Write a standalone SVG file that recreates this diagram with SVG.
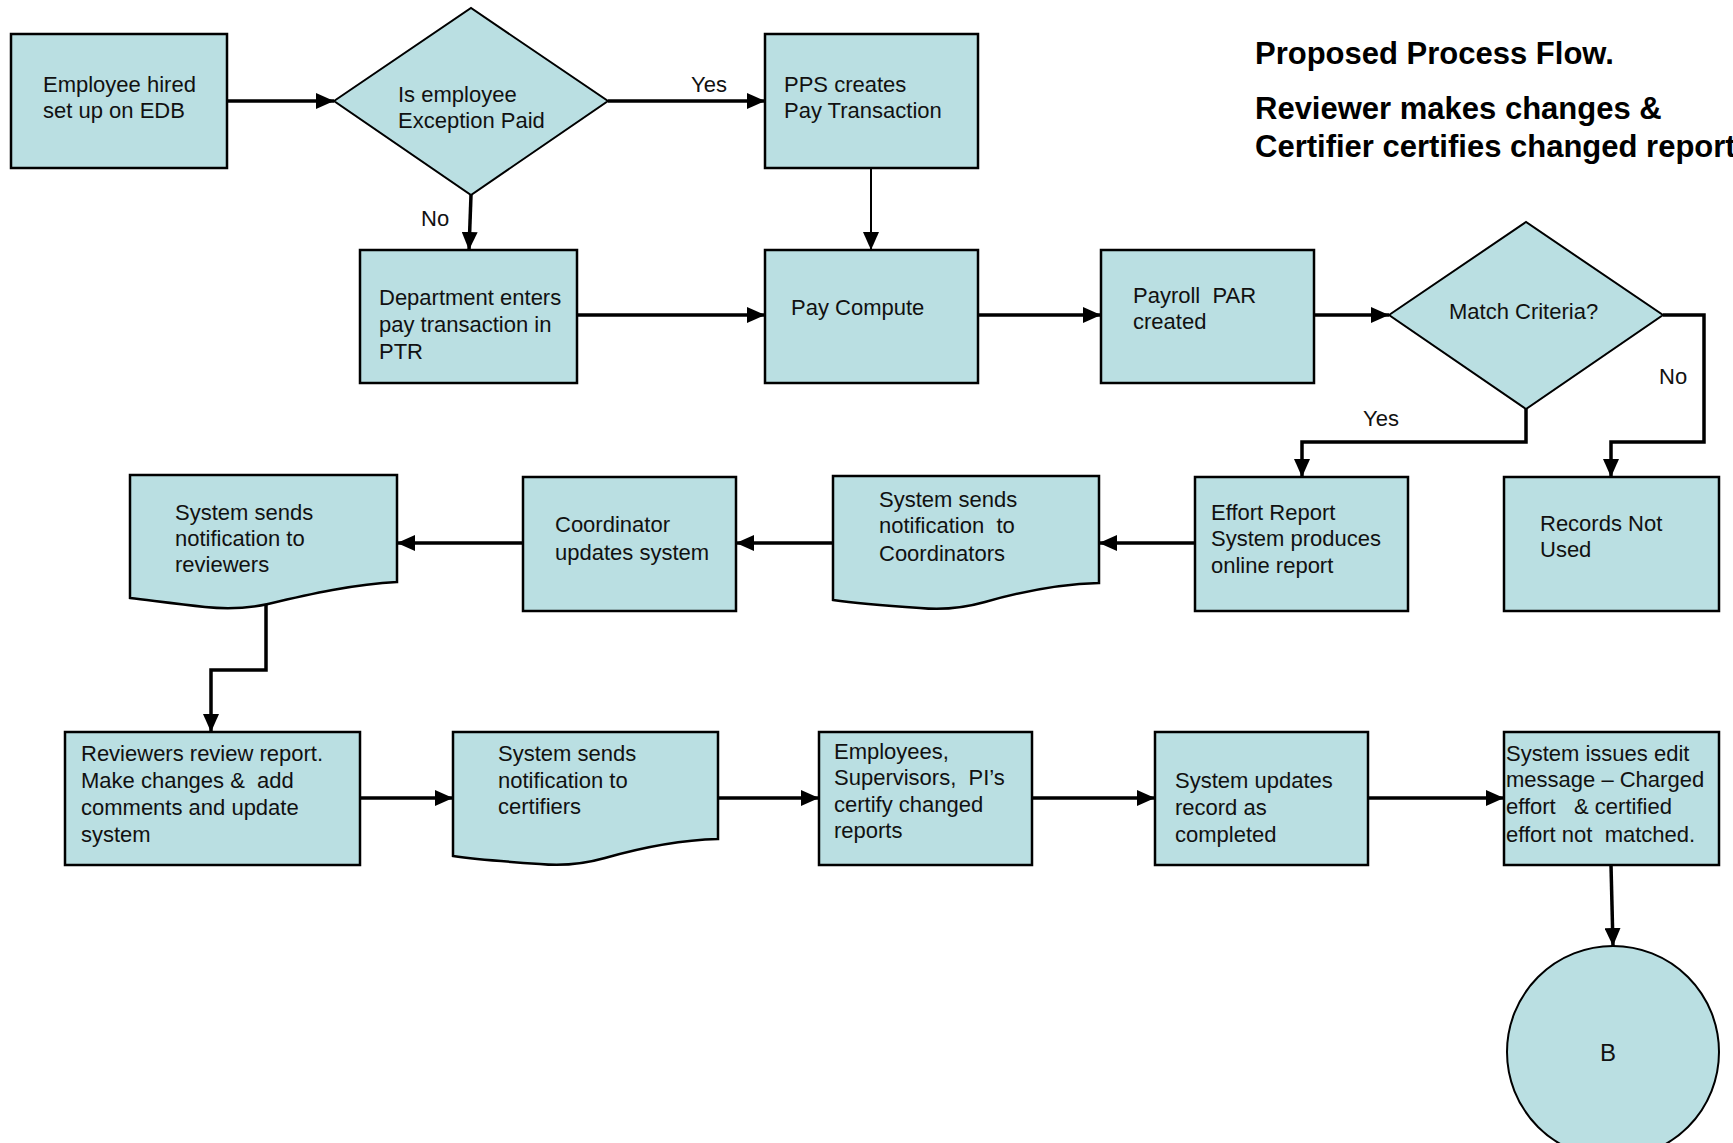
<svg xmlns="http://www.w3.org/2000/svg" width="1733" height="1143" viewBox="0 0 1733 1143">
<style>
.n{fill:#BADFE2;stroke:#000;stroke-width:2.5}
.d{fill:#BADFE2;stroke:#000;stroke-width:2}
.t{font-family:"Liberation Sans",Arial,sans-serif;font-size:22px;fill:#111;white-space:pre}
.h{font-family:"Liberation Sans",Arial,sans-serif;font-size:31px;font-weight:bold;fill:#000}
.c{fill:none;stroke:#000;stroke-width:3.5}
.c2{fill:none;stroke:#000;stroke-width:2}
</style>
<defs>
<marker id="a" viewBox="0 0 18 16" refX="18" refY="8" markerWidth="18" markerHeight="16" orient="auto" markerUnits="userSpaceOnUse"><path d="M0,0 L18,8 L0,16 z" fill="#000"/></marker>
</defs>
<rect width="1733" height="1143" fill="#fff"/>
<text class="h" x="1255" y="64">Proposed Process Flow.</text>
<text class="h" x="1255" y="119">Reviewer makes changes &amp;</text>
<text class="h" x="1255" y="157">Certifier certifies changed report</text>

<g id="connectors">
<path class="c" d="M227,101 H334" marker-end="url(#a)"/>
<path class="c" d="M608,101 H765" marker-end="url(#a)"/>
<path class="c" d="M471,195 L469,250" marker-end="url(#a)"/>
<path class="c2" d="M871,168 V250" marker-end="url(#a)"/>
<path class="c" d="M577,315 H765" marker-end="url(#a)"/>
<path class="c" d="M978,315 H1101" marker-end="url(#a)"/>
<path class="c" d="M1314,315 H1389" marker-end="url(#a)"/>
<path class="c" d="M1526,409 V442 H1302 V477" marker-end="url(#a)"/>
<path class="c" d="M1663,315 H1704 V442 H1611 V477" marker-end="url(#a)"/>
<path class="c" d="M1195,543 H1099" marker-end="url(#a)"/>
<path class="c" d="M833,543 H736" marker-end="url(#a)"/>
<path class="c" d="M523,543 H397" marker-end="url(#a)"/>
<path class="c" d="M266,602 V670 H211 V732" marker-end="url(#a)"/>
<path class="c" d="M360,798 H453" marker-end="url(#a)"/>
<path class="c" d="M718,798 H819" marker-end="url(#a)"/>
<path class="c" d="M1032,798 H1155" marker-end="url(#a)"/>
<path class="c" d="M1368,798 H1504" marker-end="url(#a)"/>
<path class="c" d="M1611,865 L1613,946" marker-end="url(#a)"/>
<text class="t" x="691" y="92">Yes</text>
<text class="t" x="421" y="226">No</text>
<text class="t" x="1363" y="426">Yes</text>
<text class="t" x="1659" y="384">No</text>
</g>

<g id="n1"><rect class="n" x="11" y="34" width="216" height="134"/>
<text class="t" x="43" y="92">Employee hired</text><text class="t" x="43" y="118">set up on EDB</text></g>

<g id="n2"><polygon class="d" points="334,101 471,8 608,101 471,195"/>
<text class="t" x="398" y="102">Is employee</text><text class="t" x="398" y="128">Exception Paid</text></g>

<g id="n3"><rect class="n" x="765" y="34" width="213" height="134"/>
<text class="t" x="784" y="92">PPS creates</text><text class="t" x="784" y="118">Pay Transaction</text></g>

<g id="n4"><rect class="n" x="360" y="250" width="217" height="133"/>
<text class="t" x="379" y="305">Department enters</text><text class="t" x="379" y="332">pay transaction in</text><text class="t" x="379" y="359">PTR</text></g>

<g id="n5"><rect class="n" x="765" y="250" width="213" height="133"/>
<text class="t" x="791" y="315">Pay Compute</text></g>

<g id="n6"><rect class="n" x="1101" y="250" width="213" height="133"/>
<text class="t" x="1133" y="303">Payroll  PAR</text><text class="t" x="1133" y="329">created</text></g>

<g id="n7"><polygon class="d" points="1389,315 1526,222 1663,315 1526,409"/>
<text class="t" x="1449" y="319">Match Criteria?</text></g>

<g id="n8"><rect class="n" x="1195" y="477" width="213" height="134"/>
<text class="t" x="1211" y="520">Effort Report</text><text class="t" x="1211" y="546">System produces</text><text class="t" x="1211" y="573">online report</text></g>

<g id="n9"><rect class="n" x="1504" y="477" width="215" height="134"/>
<text class="t" x="1540" y="531">Records Not</text><text class="t" x="1540" y="557">Used</text></g>

<g id="n10"><path class="n" d="M833,476 H1099 V583 C1060,584 1020,592 985,602 C960,609 940,610 920,608 C890,606 860,604 833,600 Z"/>
<text class="t" x="879" y="507">System sends</text><text class="t" x="879" y="533">notification  to</text><text class="t" x="879" y="561">Coordinators</text></g>

<g id="n11"><rect class="n" x="523" y="477" width="213" height="134"/>
<text class="t" x="555" y="532">Coordinator</text><text class="t" x="555" y="560">updates system</text></g>

<g id="n12"><path class="n" d="M130,475 H397 V582 C355,584 310,594 268,604 C245,609 225,609 205,607 C178,604 155,601 130,598 Z"/>
<text class="t" x="175" y="520">System sends</text><text class="t" x="175" y="546">notification to</text><text class="t" x="175" y="572">reviewers</text></g>

<g id="n13"><rect class="n" x="65" y="732" width="295" height="133"/>
<text class="t" x="81" y="761">Reviewers review report.</text><text class="t" x="81" y="788">Make changes &amp;  add</text><text class="t" x="81" y="815">comments and update</text><text class="t" x="81" y="842">system</text></g>

<g id="n14"><path class="n" d="M453,732 H718 V839 C680,840 640,848 605,858 C580,865 560,866 540,864 C510,862 480,860 453,856 Z"/>
<text class="t" x="498" y="761">System sends</text><text class="t" x="498" y="788">notification to</text><text class="t" x="498" y="814">certifiers</text></g>

<g id="n15"><rect class="n" x="819" y="732" width="213" height="133"/>
<text class="t" x="834" y="759">Employees,</text><text class="t" x="834" y="785">Supervisors,  PI’s</text><text class="t" x="834" y="812">certify changed</text><text class="t" x="834" y="838">reports</text></g>

<g id="n16"><rect class="n" x="1155" y="732" width="213" height="133"/>
<text class="t" x="1175" y="788">System updates</text><text class="t" x="1175" y="815">record as</text><text class="t" x="1175" y="842">completed</text></g>

<g id="n17"><rect class="n" x="1504" y="732" width="215" height="133"/>
<text class="t" x="1506" y="761">System issues edit</text><text class="t" x="1506" y="787">message – Charged</text><text class="t" x="1506" y="814">effort   &amp; certified</text><text class="t" x="1506" y="842">effort not  matched.</text></g>

<g id="n18"><circle class="d" cx="1613" cy="1052" r="106"/>
<text class="t" x="1608" y="1061" text-anchor="middle" style="font-size:24px">B</text></g>
</svg>
